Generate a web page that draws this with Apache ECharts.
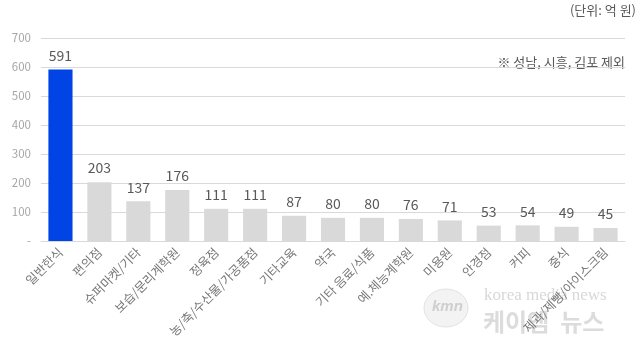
<!DOCTYPE html>
<html>
<head>
<meta charset="utf-8">
<script src="https://cdn.jsdelivr.net/npm/echarts@6/dist/echarts.min.js"></script>
<style>
  html, body { margin: 0; padding: 0; background: #fff; }
  #chart { width: 641px; height: 355px; }
</style>
</head>
<body>
<div id="chart"></div>
<script>
// 업종별 매출 (단위: 억 원)
var categories = ['일반한식', '편의점', '슈퍼마켓/기타', '보습/문리계학원', '정육점', '농/축/수산물/가공품점', '기타교육', '약국', '기타 음료/식품', '예.체능계학원', '미용원', '안경점', '커피', '중식', '제과/제빵/아이스크림']
var values = [591, 203, 137, 176, 111, 111, 87, 80, 80, 76, 71, 53, 54, 49, 45]
var yTicks = [0, 100, 200, 300, 400, 500, 600, 700]

var font = '"Noto Sans CJK KR", "Noto Sans", sans-serif'
var chart = echarts.init(document.getElementById('chart'))

chart.setOption({
  animation: false,
  textStyle: { fontFamily: font },
  grid: {
    left: 41,
    right: 16,
    top: 38,
    bottom: 114
  },
  graphic: [
    {
      type: 'text',
      right: 5,
      top: 4,
      style: { text: '(단위: 억 원)', fill: '#595959', font: '13px ' + font }
    },
    {
      type: 'text',
      right: 16,
      top: 56,
      style: { text: '※ 성남, 시흥, 김포 제외', fill: '#595959', font: '13px ' + font }
    },
    // 워터마크
    {
      type: 'ellipse',
      shape: { cx: 446, cy: 308, rx: 22, ry: 19 },
      style: { fill: 'rgba(235,235,235,0.6)', stroke: 'rgba(220,220,220,0.8)' },
      z: 0
    },
    {
      type: 'text',
      left: 432,
      top: 299,
      style: { text: 'kmn', fill: '#cfcfcf', font: 'italic bold 15px sans-serif' },
      z: 0
    },
    {
      type: 'text',
      left: 484,
      top: 287,
      style: { text: 'korea media news', fill: '#d8d8d8', font: '17px "Liberation Serif", serif' },
      z: 0
    },
    {
      type: 'text',
      left: 483,
      top: 310,
      style: { text: '케이엠  뉴스', fill: '#dcdcdc', font: 'bold 24px ' + font },
      z: 0
    }
  ],
  xAxis: {
    type: 'category',
    data: categories,
    axisLine: { lineStyle: { color: '#d9d9d9' } },
    axisTick: { show: false },
    axisLabel: {
      rotate: 45,
      interval: 0,
      color: '#777',
      fontSize: 12.5,
      margin: 9
    }
  },
  yAxis: {
    type: 'value',
    min: 0,
    max: 700,
    interval: 100,
    axisLine: { show: false },
    axisTick: { show: false },
    splitLine: { lineStyle: { color: '#d9d9d9' } },
    axisLabel: {
      color: '#a6a6a6',
      fontSize: 11.5,
      margin: 10,
      formatter: function (v) { return v === 0 ? '-' : v }
    }
  },
  series: [{
    type: 'bar',
    data: values.map(function (v, i) {
      return {
        value: v,
        itemStyle: { color: i === 0 ? '#0044E6' : '#D9D9D9' }
      }
    }),
    barWidth: '62%',
    label: {
      show: true,
      position: 'top',
      distance: 7,
      color: '#595959',
      fontSize: 14
    }
  }]
})
</script>
</body>
</html>
